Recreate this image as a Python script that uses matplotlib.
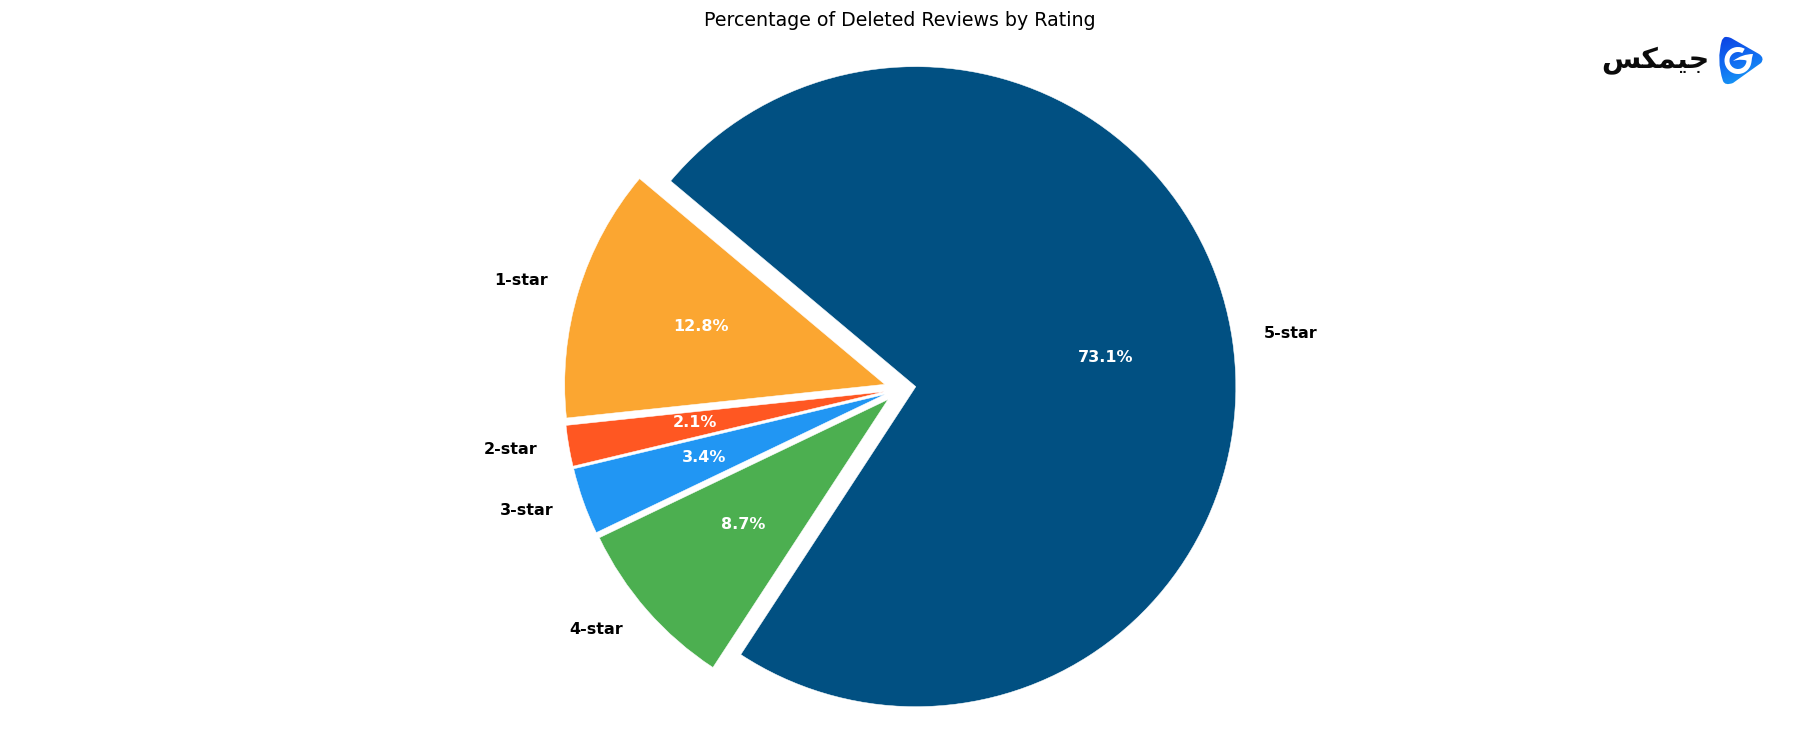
import numpy as np
import matplotlib
matplotlib.use("Agg")
import matplotlib.pyplot as plt
from matplotlib.patches import Wedge, PathPatch
from matplotlib.path import Path
from matplotlib.colors import LinearSegmentedColormap

ratings = ["1-star", "2-star", "3-star", "4-star", "5-star"]
deleted_share = [12.79, 2.06, 3.37, 8.68, 73.10]
slice_colors = ["#FBA631", "#FF5722", "#2196F3", "#4CAF50", "#015082"]
title_text = "Percentage of Deleted Reviews by Rating"
logo_text = "\ufeb2\ufedc\ufee4\ufbff\ufe9f"

W, H = 1800, 750
fig = plt.figure(figsize=(18, 7.5), dpi=100, facecolor="white")

# main pie axes, placed in pixels: one data unit is 320 px
R_PX = 320
cx, cy = 900, 389
left, right, top, bottom = 100, 1700, 40, 740
ax = fig.add_axes([left / W, 1 - bottom / H, (right - left) / W, (bottom - top) / H])
wedges, texts, autotexts = ax.pie(
    deleted_share,
    labels=ratings,
    colors=slice_colors,
    explode=[0.05] * 5,
    startangle=140,
    autopct="%1.1f%%",
    pctdistance=0.6,
    labeldistance=1.1,
    wedgeprops={"edgecolor": "white", "linewidth": 0.35},
    textprops={"fontsize": 11.5, "fontweight": "bold"},
)
for t in autotexts:
    t.set_color("white")
for t in list(texts) + list(autotexts):
    t.set_y(t.get_position()[1] + 1.5 / R_PX)
ax.set_xlim((left - cx) / R_PX, (right - cx) / R_PX)
ax.set_ylim((cy - bottom) / R_PX, (cy - top) / R_PX)
ax.set_aspect("equal")
fig.text(899.5 / W, 1 - 20 / H, title_text, ha="center", va="center", fontsize=13.65)

# logo overlay in pixel coordinates
ov = fig.add_axes([0, 0, 1, 1], facecolor="none")
ov.set_xlim(0, W)
ov.set_ylim(H, 0)
ov.axis("off")
ov.text(1655.5, 60, logo_text, ha="center", va="center", fontsize=20.5,
        fontweight="bold", family="DejaVu Sans", color="#0b0b0b")

verts = [(1724, 37.5), (1726, 36), (1731, 38), (1759, 54), (1765, 58), (1761, 63),
         (1733, 83), (1725, 86), (1723, 81), (1716, 60), (1722, 40), (1724, 37.5)]
codes = [Path.MOVETO, Path.CURVE3, Path.CURVE3, Path.LINETO, Path.CURVE3, Path.CURVE3,
         Path.LINETO, Path.CURVE3, Path.CURVE3, Path.CURVE3, Path.CURVE3, Path.CLOSEPOLY]
clip = PathPatch(Path(verts, codes), facecolor="none", edgecolor="none")
ov.add_patch(clip)
cmap = LinearSegmentedColormap.from_list("logo", ["#0c3fe2", "#1170f2", "#1bb0f6"])
yy, xx = np.mgrid[0:1:64j, 0:1:64j]
grad = 0.75 * yy + 0.25 * xx
im = ov.imshow(grad, extent=(1718, 1766, 88, 35), cmap=cmap, aspect="auto", zorder=2)
im.set_clip_path(clip)
ov.set_xlim(0, W)
ov.set_ylim(H, 0)
ov.add_patch(Wedge((1738, 60.5), 13.5, -15, 300, width=5, facecolor="white", edgecolor="none", zorder=3))
swoosh = Path([(1753, 54), (1742, 54), (1733, 61), (1742, 58), (1751, 62), (1753, 54)],
              [Path.MOVETO, Path.CURVE3, Path.CURVE3, Path.CURVE3, Path.CURVE3, Path.CLOSEPOLY])
ov.add_patch(PathPatch(swoosh, facecolor="white", edgecolor="none", zorder=3))

fig.savefig("out.png", dpi=100, facecolor="white")
